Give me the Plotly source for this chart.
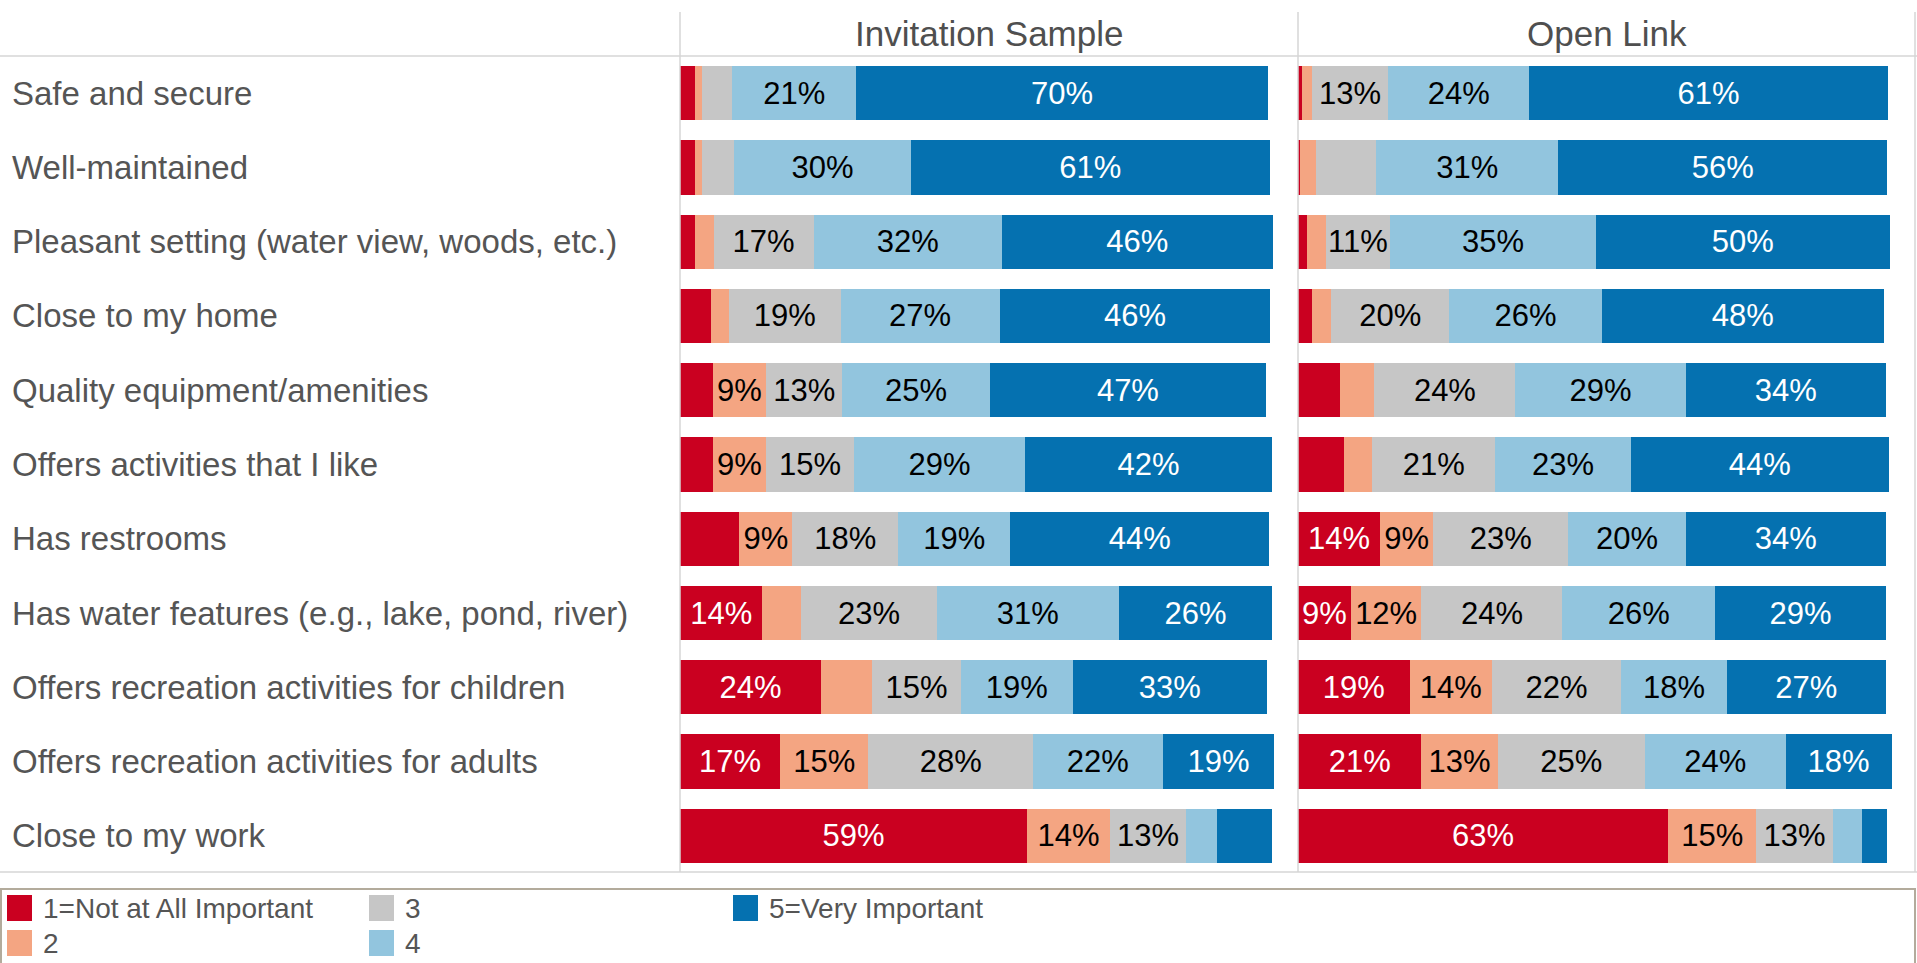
import plotly.graph_objects as go

# ---- data -------------------------------------------------------------
rows = [
    "Safe and secure",
    "Well-maintained",
    "Pleasant setting (water view, woods, etc.)",
    "Close to my home",
    "Quality equipment/amenities",
    "Offers activities that I like",
    "Has restrooms",
    "Has water features (e.g., lake, pond, river)",
    "Offers recreation activities for children",
    "Offers recreation activities for adults",
    "Close to my work",
]

levels = ["1=Not at All Important", "2", "3", "4", "5=Very Important"]
colors = ["#ca0020", "#f4a582", "#c6c6c6", "#92c5de", "#0571b0"]
text_colors = ["white", "black", "black", "black", "white"]

panels = ["Invitation Sample", "Open Link"]

# percent of respondents per rating level, one list per level (rows in order above)
inv_1 = [2.6, 2.6, 2.6, 5.3, 5.6, 5.6, 10.1, 14, 24, 17, 59]
inv_2 = [1.2, 1.2, 3.1, 3.0, 9, 9, 9, 6.6, 8.7, 15, 14]
inv_3 = [5.1, 5.4, 17, 19, 13, 15, 18, 23, 15, 28, 13]
inv_4 = [21, 30, 32, 27, 25, 29, 19, 31, 19, 22, 5.3]
inv_5 = [70, 61, 46, 46, 47, 42, 44, 26, 33, 19, 9.3]

open_1 = [0.75, 0.4, 1.6, 2.3, 7.1, 7.8, 14, 9, 19, 21, 63]
open_2 = [1.6, 2.7, 3.1, 3.4, 5.9, 4.8, 9, 12, 14, 13, 15]
open_3 = [13, 10.2, 11, 20, 24, 21, 23, 24, 22, 25, 13]
open_4 = [24, 31, 35, 26, 29, 23, 20, 26, 18, 24, 4.9]
open_5 = [61, 56, 50, 48, 34, 44, 34, 29, 27, 18, 4.3]

# which segments carry a printed label (too-narrow segments stay blank)
inv_show = [
    [0, 0, 0, 0, 0, 0, 0, 1, 1, 1, 1],
    [0, 0, 0, 0, 1, 1, 1, 0, 0, 1, 1],
    [0, 0, 1, 1, 1, 1, 1, 1, 1, 1, 1],
    [1, 1, 1, 1, 1, 1, 1, 1, 1, 1, 0],
    [1, 1, 1, 1, 1, 1, 1, 1, 1, 1, 0],
]
open_show = [
    [0, 0, 0, 0, 0, 0, 1, 1, 1, 1, 1],
    [0, 0, 0, 0, 0, 0, 1, 1, 1, 1, 1],
    [1, 0, 1, 1, 1, 1, 1, 1, 1, 1, 1],
    [1, 1, 1, 1, 1, 1, 1, 1, 1, 1, 0],
    [1, 1, 1, 1, 1, 1, 1, 1, 1, 1, 0],
]

inv_vals = [inv_1, inv_2, inv_3, inv_4, inv_5]
open_vals = [open_1, open_2, open_3, open_4, open_5]

# ---- layout geometry (pixels) -----------------------------------------
W, H = 1917, 963
FONT = "Liberation Sans, Arial, sans-serif"


def px(x):
    return x / W


def py(y):
    return 1 - y / H


plot_top, plot_bottom = 56, 873
panel_edges = [680, 1298, 1915]

fig = go.Figure()

for p, (vals, show, xa) in enumerate(
    [(inv_vals, inv_show, "x"), (open_vals, open_show, "x2")]
):
    for k in range(5):
        labels = [
            f"{round(v)}%" if s else "" for v, s in zip(vals[k], show[k])
        ]
        fig.add_trace(
            go.Bar(
                orientation="h",
                y=rows,
                x=vals[k],
                name=levels[k],
                marker=dict(color=colors[k], line=dict(width=0)),
                text=labels,
                texttemplate="%{text}",
                textposition="inside",
                insidetextanchor="middle",
                textangle=0,
                textfont=dict(family=FONT, size=31, color=text_colors[k]),
                xaxis=xa,
                yaxis="y",
                showlegend=False,
                hoverinfo="skip",
            )
        )

axis_common = dict(
    range=[0, 105],
    showgrid=False,
    zeroline=False,
    showticklabels=False,
    ticks="",
    fixedrange=True,
)

fig.update_layout(
    width=W,
    height=H,
    autosize=False,
    margin=dict(l=0, r=0, t=0, b=0),
    paper_bgcolor="white",
    plot_bgcolor="white",
    barmode="stack",
    bargap=0.27,
    uniformtext=dict(minsize=31, mode="show"),
    xaxis=dict(domain=[px(panel_edges[0]), px(panel_edges[1])], anchor="y", **axis_common),
    xaxis2=dict(domain=[px(panel_edges[1]), px(panel_edges[2])], anchor="y", **axis_common),
    yaxis=dict(
        domain=[py(plot_bottom), py(plot_top)],
        categoryorder="array",
        categoryarray=rows,
        autorange="reversed",
        showticklabels=False,
        showgrid=False,
        zeroline=False,
        ticks="",
        fixedrange=True,
    ),
)

annotations = []

# row labels, left aligned
for r in rows:
    annotations.append(
        dict(
            x=px(10), xref="paper", y=r, yref="y",
            text=r, showarrow=False, xanchor="left", yanchor="middle",
            font=dict(family=FONT, size=33, color="#555555"),
        )
    )

# panel headers
for i, name in enumerate(panels):
    cx = (panel_edges[i] + panel_edges[i + 1]) / 2
    annotations.append(
        dict(
            x=px(cx), xref="paper", y=py(34), yref="paper",
            text=name, showarrow=False, xanchor="center", yanchor="middle",
            font=dict(family=FONT, size=35, color="#4f4f4f"),
        )
    )

shapes = []
line_col = "#d6d6d6"
# header divider and bottom rule
for yy in (plot_top, 872):
    shapes.append(dict(type="line", xref="paper", yref="paper",
                       x0=0, x1=1, y0=py(yy), y1=py(yy),
                       line=dict(color=line_col, width=1.5)))
# panel separators
for xx in panel_edges:
    shapes.append(dict(type="line", xref="paper", yref="paper",
                       x0=px(xx), x1=px(xx), y0=py(12), y1=py(872),
                       line=dict(color=line_col, width=1.5)))

# legend box
shapes.append(dict(type="rect", xref="paper", yref="paper",
                   x0=px(1), x1=px(1915), y0=py(889), y1=py(970),
                   line=dict(color="#b3ab9c", width=2), fillcolor="rgba(0,0,0,0)"))

# legend entries laid out column-wise, two per column
col_x = [7, 369, 733]
row_y = [908, 943]
for k, name in enumerate(levels):
    cx = col_x[k // 2]
    cy = row_y[k % 2]
    shapes.append(dict(type="rect", xref="paper", yref="paper",
                       x0=px(cx), x1=px(cx + 25), y0=py(cy - 13), y1=py(cy + 13),
                       line=dict(width=0), fillcolor=colors[k]))
    annotations.append(
        dict(
            x=px(cx + 34), xref="paper", y=py(cy), yref="paper",
            text=name, showarrow=False, xanchor="left", yanchor="middle",
            font=dict(family=FONT, size=28, color="#555555"),
        )
    )

fig.update_layout(annotations=annotations, shapes=shapes)

fig.write_html("out.html")
